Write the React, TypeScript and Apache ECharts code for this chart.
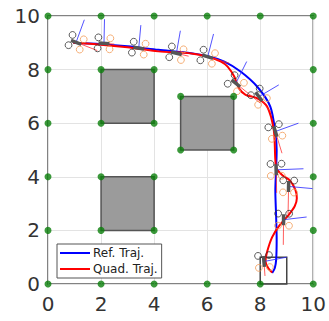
import React, { useEffect, useRef } from "react";
import * as echarts from "echarts";

const FONT = "DejaVu Sans";

// grid nodes (green dots)
const nodeX = [0, 2, 4, 6, 8, 10, 0, 0, 0, 0, 0, 2, 4, 6, 8, 10, 10, 10, 10, 10, 2, 4, 2, 4, 5, 7, 5, 7, 2, 4, 2, 4];
const nodeY = [0, 0, 0, 0, 0, 0, 2, 4, 6, 8, 10, 10, 10, 10, 10, 10, 8, 6, 4, 2, 8, 8, 6, 6, 7, 7, 5, 5, 4, 4, 2, 2];

// obstacles [x0, y0, x1, y1]
const obstacles = [
  [2, 6, 4, 8],
  [5, 5, 7, 7],
  [2, 2, 4, 4],
];
const goalBox = [[8, 0, 9, 1]];

// reference trajectory
const refX = [0.95, 2.0, 3.0, 4.16, 5.4, 6.02, 6.65, 7.27, 7.89, 8.38, 8.57, 8.62, 8.6, 8.57, 8.6, 8.62, 8.6, 8.55, 8.45];
const refY = [9.0, 8.95, 8.87, 8.74, 8.61, 8.5, 8.3, 7.92, 7.36, 6.62, 5.63, 5.0, 4.3, 3.5, 2.5, 1.65, 0.9, 0.6, 0.41];

// quad trajectory
const quadTrajX = [0.95, 2.0, 3.0, 4.16, 5.4, 6.02, 6.52, 6.77, 7.02, 7.2, 7.45, 7.89, 8.26, 8.51, 8.57, 8.62, 8.85, 9.13, 9.33, 9.38, 9.3, 9.05, 8.72, 8.45, 8.26, 8.2, 8.3, 8.45];
const quadTrajY = [9.0, 8.93, 8.83, 8.68, 8.6, 8.48, 8.3, 8.11, 7.74, 7.3, 7.06, 6.93, 6.62, 5.75, 4.63, 4.3, 4.05, 3.85, 3.5, 3.2, 2.9, 2.55, 2.18, 1.75, 1.2, 0.85, 0.6, 0.43];

// quadrotor snapshots: position, thrust arrow tip, velocity tip
const quadX = [1.06, 2.11, 3.42, 4.84, 6.02, 7.08, 7.95, 8.57, 8.6, 9.07, 8.88, 8.14];
const quadY = [9.02, 8.98, 8.8, 8.61, 8.48, 7.49, 6.99, 5.69, 4.26, 3.64, 2.4, 0.84];
const thrustX = [1.37, 2.13, 3.5, 4.99, 6.24, 7.49, 8.7, 9.44, 9.63, 9.97, 9.75, 9.0];
const thrustY = [9.86, 9.88, 9.66, 9.45, 9.33, 8.3, 7.43, 6.0, 4.3, 3.56, 2.5, 1.0];
const velX = [1.86, 2.5, 3.9, 5.3, 6.83, 8.0, 8.4, 8.82, 8.62, 9.05, 8.87, 8.18];
const velY = [8.71, 8.95, 8.72, 8.5, 8.24, 6.75, 6.4, 4.88, 3.4, 2.6, 1.46, 0.3];

const xTicks = [0, 2, 4, 6, 8, 10];

export default function App() {
  const ref = useRef<HTMLDivElement>(null);
  useEffect(() => {
    if (!ref.current) return;
    const chart = echarts.init(ref.current, null, { renderer: "svg" });
    const axisCommon = {
      type: "value",
      min: xTicks[0],
      max: xTicks[xTicks.length - 1],
      interval: 2,
      axisLine: { show: false },
      axisTick: { show: false },
      splitLine: { show: true, lineStyle: { color: "#e3e3e3", width: 1 } },
      axisLabel: { fontSize: 20, color: "#333", fontFamily: FONT },
    };
    const rectRender = (stroke: string, fill: string, lw: number) => (params: any, api: any) => {
      const p0 = api.coord([api.value(0), api.value(3)]);
      const p1 = api.coord([api.value(2), api.value(1)]);
      return {
        type: "rect",
        shape: { x: p0[0], y: p0[1], width: p1[0] - p0[0], height: p1[1] - p0[1] },
        style: { fill, stroke, lineWidth: lw },
      };
    };
    const quadData = quadX.map((x, i) => [x, quadY[i], thrustX[i], thrustY[i], velX[i], velY[i]]);
    chart.setOption({
      animation: false,
      textStyle: { fontFamily: FONT },
      grid: { left: 48, right: 12, top: 16, bottom: 37, show: true, borderColor: "#5a5a5a", borderWidth: 1.5, backgroundColor: "transparent" },
      xAxis: { ...axisCommon, axisLabel: { ...axisCommon.axisLabel, margin: 10 } },
      yAxis: { ...axisCommon, axisLabel: { ...axisCommon.axisLabel, margin: 8 } },
      legend: {
        orient: "vertical",
        left: 57,
        top: 244,
        data: ["Ref. Traj.", "Quad. Traj."],
        icon: "rect",
        itemWidth: 30,
        itemHeight: 2,
        itemGap: 4,
        padding: [3, 4, 3, 3],
        borderColor: "#555",
        borderWidth: 1,
        backgroundColor: "#fff",
        textStyle: { fontSize: 12, color: "#222", fontFamily: FONT, padding: [0, 0, 0, -2] },
      },
      series: [
        {
          type: "custom",
          name: "obstacles",
          renderItem: rectRender("#555", "#9b9b9b", 1.5),
          data: obstacles,
          z: 2,
        },
        {
          type: "custom",
          name: "goal",
          renderItem: rectRender("#444", "none", 1.5),
          data: goalBox,
          z: 2,
        },
        {
          type: "line",
          name: "Ref. Traj.",
          data: refX.map((x, i) => [x, refY[i]]),
          showSymbol: false,
          smooth: 0.3,
          lineStyle: { color: "#0000ff", width: 2 },
          itemStyle: { color: "#0000ff" },
          z: 3,
        },
        {
          type: "line",
          name: "Quad. Traj.",
          data: quadTrajX.map((x, i) => [x, quadTrajY[i]]),
          showSymbol: false,
          smooth: 0.3,
          lineStyle: { color: "#ff0000", width: 2 },
          itemStyle: { color: "#ff0000" },
          z: 4,
        },
        {
          type: "custom",
          name: "quads",
          z: 5,
          data: quadData,
          renderItem: (params: any, api: any) => {
            const c = api.coord([api.value(0), api.value(1)]);
            const t = api.coord([api.value(2), api.value(3)]);
            const v = api.coord([api.value(4), api.value(5)]);
            const ang = Math.atan2(v[1] - c[1], v[0] - c[0]);
            const fx = Math.cos(ang), fy = Math.sin(ang);
            const lx = -fy, ly = fx;
            const pt = (a: number, b: number) => [c[0] + fx * a + lx * b, c[1] + fy * a + ly * b];
            const rotor = (p: number[], color: string) => ({
              type: "circle",
              shape: { cx: p[0], cy: p[1], r: 3.4 },
              style: { fill: "none", stroke: color, lineWidth: 0.8 },
            });
            const b0 = pt(-5.5, 0), b1 = pt(5.5, 0);
            return {
              type: "group",
              children: [
                { type: "line", shape: { x1: c[0], y1: c[1], x2: v[0], y2: v[1] }, style: { stroke: "rgba(255,40,40,0.75)", lineWidth: 1 } },
                { type: "line", shape: { x1: c[0], y1: c[1], x2: t[0], y2: t[1] }, style: { stroke: "rgba(40,40,255,0.8)", lineWidth: 1 } },
                { type: "line", shape: { x1: b0[0], y1: b0[1], x2: b1[0], y2: b1[1] }, style: { stroke: "#555", lineWidth: 3.5 } },
                rotor(pt(-6, -5.5), "#333"),
                rotor(pt(-6, 5.5), "#333"),
                rotor(pt(6, -5.5), "#f39a55"),
                rotor(pt(6, 5.5), "#f39a55"),
              ],
            };
          },
        },
        {
          type: "scatter",
          name: "nodes",
          data: nodeX.map((x, i) => [x, nodeY[i]]),
          symbolSize: 7,
          itemStyle: { color: "#0a800a" },
          z: 6,
        },
      ],
    });
    return () => chart.dispose();
  }, []);
  return <div ref={ref} style={{ width: 329, height: 321, position: "absolute", left: 0, top: 0 }} />;
}
